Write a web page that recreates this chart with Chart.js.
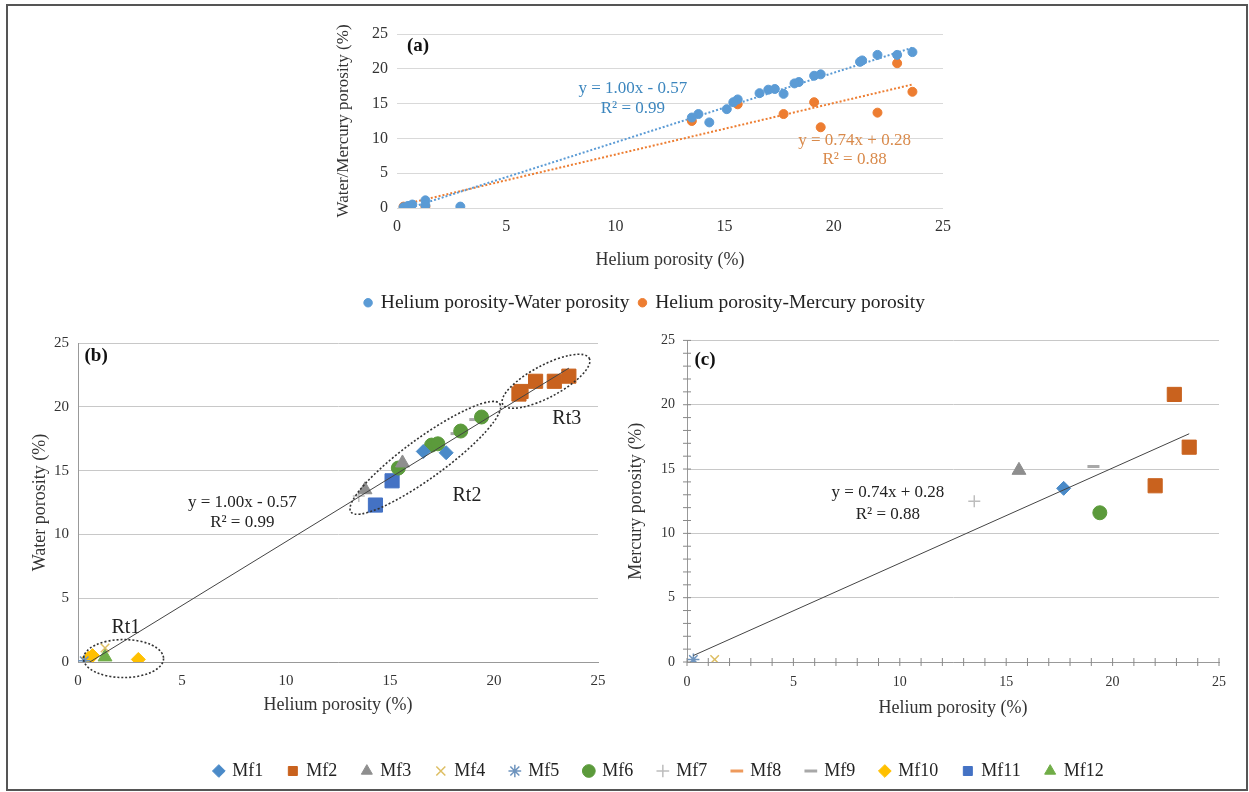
<!DOCTYPE html>
<html>
<head>
<meta charset="utf-8">
<script src="https://cdn.jsdelivr.net/npm/chart.js@4.4.1/dist/chart.umd.min.js"></script>
<style>
body { margin: 0; background: #fff; width: 1249px; height: 792px; position: relative; overflow: hidden; }
#frame { position: absolute; left: 6px; top: 4px; width: 1242px; height: 787px; border: 2px solid #555; box-sizing: border-box; }
.box { position: absolute; }
</style>
</head>
<body>
<div id="frame"></div>
<div class="box" style="left:330px;top:15px;width:630px;height:265px"><canvas id="chartA"></canvas></div>
<div class="box" style="left:10px;top:325px;width:610px;height:395px"><canvas id="chartB"></canvas></div>
<div class="box" style="left:620px;top:320px;width:620px;height:400px"><canvas id="chartC"></canvas></div>
<div class="box" style="left:320px;top:283px;width:650px;height:100px"><canvas id="legendA"></canvas></div>
<div class="box" style="left:70px;top:737px;width:1178px;height:120px"><canvas id="legendB"></canvas></div>
<script>
// sample groups
const groupNames = ['Mf1', 'Mf2', 'Mf3', 'Mf4', 'Mf5', 'Mf6', 'Mf7', 'Mf8', 'Mf9', 'Mf10', 'Mf11', 'Mf12'];
// helium vs water porosity (%), one list per group
const heliumWater = [[16.6, 17.7], [21.2, 21.3, 22.0, 22.9, 23.6], [13.8, 15.6], [1.3], [0.3], [15.4, 17.0, 17.3, 18.4, 19.4], [13.5], [], [18.2, 19.1], [0.5, 0.7, 2.9], [14.3, 15.1], [1.3]];
const waterPorosity = [[16.5, 16.4], [21.0, 21.2, 22.0, 22.0, 22.4], [13.5, 15.6], [1.1], [0.1], [15.2, 17.0, 17.1, 18.1, 19.2], [13.0], [], [17.9, 19.0], [0.3, 0.5, 0.2], [12.3, 14.2], [0.4]];
// helium vs mercury porosity (%)
const heliumMercury = [[17.7], [22.0, 22.9, 23.6], [15.6], [1.3], [0.3], [19.4], [13.5], [], [19.1], [], [], []];
const mercuryPorosity = [[13.5], [13.7, 20.8, 16.7], [14.9], [0.2], [0.2], [11.6], [12.5], [], [15.2], [], [], []];
// trendlines: slope, intercept, R2
const waterFit = [1.00, -0.57, 0.99];
const mercuryFit = [0.74, 0.28, 0.88];
const fitRange = [0.3, 23.6];
const axisMax = 25;
const axisStep = 5;

const SERIF = "'Liberation Serif', 'Times New Roman', serif";
Chart.defaults.font.family = SERIF;
Chart.defaults.color = '#333';
Chart.defaults.animation = false;

const markerStyle = ['rectRot', 'rect', 'triangle', 'crossRot', 'star', 'circle', 'cross', 'line', 'line', 'rectRot', 'rect', 'triangle'];
const markerColor = ['#4A8AC8', '#C9621E', '#8E8E8E', '#DDBE63', '#6E94BE', '#5B9A3B', '#BDBDBD', '#EE9A5C', '#A8A8A8', '#FFC000', '#4472C4', '#70AD47'];
const markerSize = [7, 10, 8, 6, 6, 7, 6, 5, 6, 7, 10, 8];

function zip(xs, ys) {
  return xs.map((x, i) => ({x: x, y: ys[i]}));
}

function eqText(fit) {
  const sign = fit[1] < 0 ? '-' : '+';
  return ['y = ' + fit[0].toFixed(2) + 'x ' + sign + ' ' + Math.abs(fit[1]).toFixed(2), 'R\u00B2 = ' + fit[2].toFixed(2)];
}

function fitLine(fit, color, dash, width) {
  return {
    label: 'fit',
    data: fitRange.map(x => ({x: x, y: fit[0] * x + fit[1]})),
    showLine: true,
    pointRadius: 0,
    borderColor: color,
    borderWidth: width,
    borderDash: dash
  };
}

function groupSets(hx, hy) {
  return groupNames.map((name, i) => {
    const lineLike = ['crossRot', 'star', 'cross', 'line'].includes(markerStyle[i]);
    return {
      label: name,
      data: zip(hx[i], hy[i]),
      pointStyle: markerStyle[i],
      pointRadius: markerSize[i],
      backgroundColor: markerColor[i],
      borderColor: markerColor[i],
      borderWidth: markerStyle[i] === 'line' ? 3 : (lineLike ? 1.5 : 1)
    };
  });
}

function axes(o) {
  const tickFont = {size: o.tickSize};
  return {
    x: {
      type: 'linear', min: 0, max: axisMax,
      ticks: {stepSize: axisStep, font: tickFont, padding: o.xPad, color: '#333'},
      grid: {display: false, drawTicks: false},
      border: {display: o.xBorder, color: '#999'},
      title: {display: true, text: 'Helium porosity (%)', font: {size: 18}, color: '#333', padding: {top: 0, bottom: o.xTitlePad}},
      afterFit: s => { s.height = o.xHeight; }
    },
    y: {
      type: 'linear', min: 0, max: axisMax,
      ticks: {stepSize: axisStep, font: tickFont, padding: o.yPad, color: '#333'},
      grid: {color: o.gridColor, drawTicks: false},
      border: {display: o.yBorder, color: '#999'},
      title: {display: true, text: o.yTitle, font: {size: o.yTitleSize}, color: '#333', padding: {top: o.yTitlePad, bottom: 0}},
      afterFit: s => { s.width = o.yWidth; }
    }
  };
}

// draws text notes, dotted ellipses and crossing minor ticks in data coordinates
const notesPlugin = {
  id: 'notes',
  afterDatasetsDraw(chart, args, o) {
    const {ctx, scales: {x, y}} = chart;
    ctx.save();
    (o.ellipses || []).forEach(e => {
      ctx.beginPath();
      ctx.ellipse(x.getPixelForValue(e.x), y.getPixelForValue(e.y), e.a, e.b, -e.angle * Math.PI / 180, 0, 2 * Math.PI);
      ctx.setLineDash([2, 2]);
      ctx.lineWidth = 1.6;
      ctx.strokeStyle = '#333';
      ctx.stroke();
    });
    ctx.setLineDash([]);
    if (o.minorTicks) {
      ctx.strokeStyle = '#888';
      ctx.lineWidth = 1;
      const x0 = x.getPixelForValue(0), y0 = y.getPixelForValue(0);
      for (let v = 0; v <= axisMax; v++) {
        const px = x.getPixelForValue(v), py = y.getPixelForValue(v);
        ctx.beginPath();
        ctx.moveTo(px, y0 - 4); ctx.lineTo(px, y0 + 4);
        ctx.moveTo(x0 - 4, py); ctx.lineTo(x0 + 4, py);
        ctx.stroke();
      }
    }
    (o.texts || []).forEach(t => {
      ctx.font = t.font;
      ctx.fillStyle = t.color || '#222';
      ctx.textAlign = 'center';
      ctx.textBaseline = 'middle';
      ctx.fillText(t.text, x.getPixelForValue(t.x), y.getPixelForValue(t.y));
    });
    ctx.restore();
  }
};

const EQ_FONT = '17px ' + SERIF;
const LABEL_FONT = 'bold 19px ' + SERIF;
const RT_FONT = '20px ' + SERIF;

// panel (a)
const allHeW = heliumWater.flat(), allW = waterPorosity.flat();
const allHeHg = heliumMercury.flat(), allHg = mercuryPorosity.flat();
const wEq = eqText(waterFit), hgEq = eqText(mercuryFit);

new Chart('chartA', {
  type: 'scatter',
  data: {
    datasets: [
      {label: 'Helium porosity-Water porosity', data: zip(allHeW, allW), backgroundColor: '#5B9BD5', borderColor: '#5B9BD5', pointRadius: 4.5, pointStyle: 'circle'},
      {label: 'Helium porosity-Mercury porosity', data: zip(allHeHg, allHg), backgroundColor: '#ED7D31', borderColor: '#ED7D31', pointRadius: 4.5, pointStyle: 'circle'},
      fitLine(waterFit, '#5B9BD5', [2, 2], 2),
      fitLine(mercuryFit, '#ED7D31', [2, 2], 2)
    ]
  },
  options: {
    responsive: true,
    maintainAspectRatio: false,
    layout: {padding: {top: 19, right: 15, left: 0, bottom: 0}},
    scales: axes({tickSize: 16, xPad: 9, yPad: 9, xBorder: false, yBorder: false, gridColor: '#D9D9D9',
      xHeight: 72, xTitlePad: 9, yWidth: 67, yTitle: 'Water/Mercury porosity (%)', yTitleSize: 17, yTitlePad: 3}),
    plugins: {
      legend: {display: false},
      tooltip: {enabled: false},
      notes: {
        texts: [
          {text: '(a)', x: 0.96, y: 23.3, font: LABEL_FONT, color: '#111'},
          {text: wEq[0], x: 10.8, y: 17.1, font: EQ_FONT, color: '#3C86BE'},
          {text: wEq[1], x: 10.8, y: 14.3, font: EQ_FONT, color: '#3C86BE'},
          {text: hgEq[0], x: 20.95, y: 9.7, font: EQ_FONT, color: '#D98A4B'},
          {text: hgEq[1], x: 20.95, y: 6.9, font: EQ_FONT, color: '#D98A4B'}
        ]
      }
    }
  },
  plugins: [notesPlugin]
});

new Chart('legendA', {
  type: 'scatter',
  data: {
    datasets: [
      {label: 'Helium porosity-Water porosity', data: [], backgroundColor: '#5B9BD5', borderColor: '#5B9BD5', pointStyle: 'circle'},
      {label: 'Helium porosity-Mercury porosity', data: [], backgroundColor: '#ED7D31', borderColor: '#ED7D31', pointStyle: 'circle'}
    ]
  },
  options: {
    responsive: true,
    maintainAspectRatio: false,
    scales: {x: {display: false}, y: {display: false}},
    plugins: {
      tooltip: {enabled: false},
      legend: {position: 'top', labels: {usePointStyle: true, boxWidth: 6, boxHeight: 6, padding: 10, color: '#222', font: {size: 19.5}}}
    }
  }
});

// panel (b)
new Chart('chartB', {
  type: 'scatter',
  data: {datasets: [fitLine(waterFit, '#444', [], 1)].concat(groupSets(heliumWater, waterPorosity))},
  options: {
    responsive: true,
    maintainAspectRatio: false,
    layout: {padding: {top: 18, right: 22, left: 0, bottom: 0}},
    scales: axes({tickSize: 15, xPad: 10, yPad: 9, xBorder: true, yBorder: true, gridColor: '#C8C8C8',
      xHeight: 58, xTitlePad: 4, yWidth: 68, yTitle: 'Water porosity (%)', yTitleSize: 18, yTitlePad: 19}),
    plugins: {
      legend: {display: false},
      tooltip: {enabled: false},
      notes: {
        ellipses: [
          {x: 2.19, y: 0.27, a: 40, b: 19, angle: 0},
          {x: 16.7, y: 16.0, a: 92, b: 20, angle: 36},
          {x: 22.5, y: 22.0, a: 49, b: 16, angle: 28}
        ],
        texts: [
          {text: '(b)', x: 0.87, y: 24.0, font: LABEL_FONT, color: '#111'},
          {text: wEq[0], x: 7.9, y: 12.5, font: EQ_FONT},
          {text: wEq[1], x: 7.9, y: 10.9, font: EQ_FONT},
          {text: 'Rt1', x: 2.3, y: 2.7, font: RT_FONT},
          {text: 'Rt2', x: 18.7, y: 13.0, font: RT_FONT},
          {text: 'Rt3', x: 23.5, y: 19.1, font: RT_FONT}
        ]
      }
    }
  },
  plugins: [notesPlugin]
});

// panel (c)
new Chart('chartC', {
  type: 'scatter',
  data: {datasets: [fitLine(mercuryFit, '#444', [], 1)].concat(groupSets(heliumMercury, mercuryPorosity))},
  options: {
    responsive: true,
    maintainAspectRatio: false,
    layout: {padding: {top: 18, right: 21, left: 0, bottom: 0}},
    scales: axes({tickSize: 14, xPad: 12, yPad: 12, xBorder: true, yBorder: true, gridColor: '#C8C8C8',
      xHeight: 58, xTitlePad: 1, yWidth: 67, yTitle: 'Mercury porosity (%)', yTitleSize: 18, yTitlePad: 5}),
    plugins: {
      legend: {display: false},
      tooltip: {enabled: false},
      notes: {
        minorTicks: true,
        texts: [
          {text: '(c)', x: 0.85, y: 23.5, font: LABEL_FONT, color: '#111'},
          {text: hgEq[0], x: 9.44, y: 13.15, font: EQ_FONT},
          {text: hgEq[1], x: 9.44, y: 11.5, font: EQ_FONT}
        ]
      }
    }
  },
  plugins: [notesPlugin]
});

// shared group legend
new Chart('legendB', {
  type: 'scatter',
  data: {datasets: groupSets(groupNames.map(() => []), groupNames.map(() => []))},
  options: {
    responsive: true,
    maintainAspectRatio: false,
    scales: {x: {display: false}, y: {display: false}},
    plugins: {
      tooltip: {enabled: false},
      legend: {position: 'top', labels: {usePointStyle: true, boxWidth: 9, boxHeight: 9, padding: 25, color: '#222', font: {size: 18}}}
    }
  }
});
</script>
</body>
</html>
